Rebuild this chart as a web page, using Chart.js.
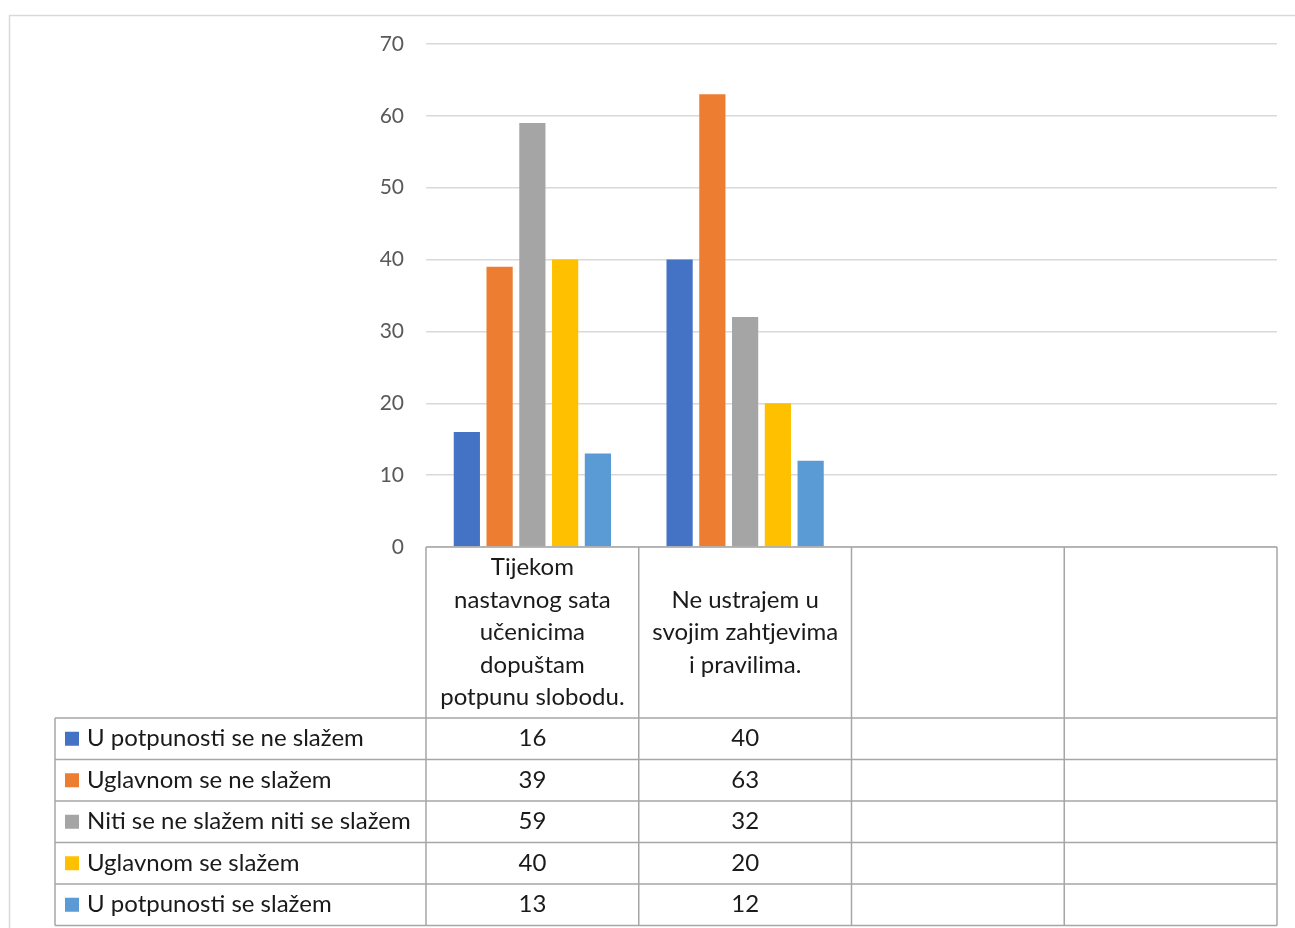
<!DOCTYPE html>
<html>
<head>
<meta charset="utf-8">
<script src="https://cdn.jsdelivr.net/npm/chart.js@4"></script>
<style>
  html, body { margin: 0; padding: 0; background: #fff; }
  #wrap { width: 1295px; height: 928px; }
</style>
</head>
<body>
<div id="wrap"><canvas id="chart" width="1295" height="928"></canvas></div>
<script>
// -------------------------------------------------------------
// Data
// -------------------------------------------------------------
const categories = [
  ['Tijekom', 'nastavnog sata', 'učenicima', 'dopuštam', 'potpunu slobodu.'],
  ['Ne ustrajem u', 'svojim zahtjevima', 'i pravilima.'],
  '',
  ''
]
const seriesNames = [
  'U potpunosti se ne slažem',
  'Uglavnom se ne slažem',
  'Niti se ne slažem niti se slažem',
  'Uglavnom se slažem',
  'U potpunosti se slažem'
]
const seriesValues = [
  [16, 40, null, null],
  [39, 63, null, null],
  [59, 32, null, null],
  [40, 20, null, null],
  [13, 12, null, null]
]
const seriesColors = ['#4472c4', '#ed7d31', '#a5a5a5', '#ffc000', '#5b9bd5']
const yTicks = [0, 10, 20, 30, 40, 50, 60, 70]

const FONT = 'Lato, "Open Sans", sans-serif'
const TABLE_LEFT = 55
const HEADER_BOTTOM = 718
const ROW_H = 41.5

// -------------------------------------------------------------
// Outer frame + data table drawn under/over the chart
// -------------------------------------------------------------
const framePlugin = {
  id: 'frame',
  beforeDraw(chart) {
    const ctx = chart.ctx
    ctx.save()
    ctx.strokeStyle = '#d9d9d9'
    ctx.lineWidth = 1.5
    ctx.strokeRect(9.5, 15.5, 1300, 1000)
    ctx.restore()
  }
}

const dataTablePlugin = {
  id: 'dataTable',
  afterDraw(chart) {
    const { ctx, chartArea } = chart
    const x = chart.scales.x
    const n = categories.length
    const cw = (chartArea.right - chartArea.left) / n
    const top = chartArea.bottom
    const bottom = HEADER_BOTTOM + ROW_H * seriesNames.length

    ctx.save()
    ctx.strokeStyle = '#a6a6a6'
    ctx.lineWidth = 1.5

    // horizontal lines
    ctx.beginPath()
    ctx.moveTo(chartArea.left, top); ctx.lineTo(chartArea.right, top)
    for (let r = 0; r <= seriesNames.length; r++) {
      const y = HEADER_BOTTOM + r * ROW_H
      ctx.moveTo(TABLE_LEFT, y); ctx.lineTo(chartArea.right, y)
    }
    // vertical lines
    ctx.moveTo(TABLE_LEFT, HEADER_BOTTOM); ctx.lineTo(TABLE_LEFT, bottom)
    for (let i = 0; i <= n; i++) {
      const xx = chartArea.left + i * cw
      ctx.moveTo(xx, top); ctx.lineTo(xx, bottom)
    }
    ctx.stroke()

    // header labels (category names)
    ctx.fillStyle = '#1a1a1a'
    ctx.font = `24px ${FONT}`
    ctx.textAlign = 'center'
    ctx.textBaseline = 'middle'
    const lineH = 32.5
    const headerMid = (top + HEADER_BOTTOM) / 2
    categories.forEach((c, i) => {
      const lines = Array.isArray(c) ? c : [c]
      const cx = x.getPixelForValue(i)
      const y0 = headerMid - (lines.length - 1) * lineH / 2
      lines.forEach((ln, k) => ctx.fillText(ln, cx, y0 + k * lineH))
    })

    // rows: legend key + name + values
    seriesNames.forEach((name, r) => {
      const cy = HEADER_BOTTOM + r * ROW_H + ROW_H / 2
      ctx.fillStyle = seriesColors[r]
      ctx.fillRect(65, cy - 7, 14, 14)
      ctx.fillStyle = '#1a1a1a'
      ctx.textAlign = 'left'
      ctx.fillText(name, 87, cy)
      ctx.textAlign = 'center'
      seriesValues[r].forEach((v, i) => {
        if (v == null) return
        ctx.fillText(String(v), x.getPixelForValue(i), cy)
      })
    })
    ctx.restore()
  }
}

new Chart(document.getElementById('chart'), {
  type: 'bar',
  data: {
    labels: categories,
    datasets: seriesNames.map((name, i) => ({
      label: name,
      data: seriesValues[i],
      backgroundColor: seriesColors[i],
      categoryPercentage: 0.77,
      barPercentage: 0.8
    }))
  },
  options: {
    responsive: false,
    animation: false,
    devicePixelRatio: 1,
    layout: { padding: { left: 0, right: 18, top: 44, bottom: 381 } },
    plugins: { legend: { display: false }, tooltip: { enabled: false } },
    scales: {
      x: { display: false },
      y: {
        min: yTicks[0],
        max: yTicks[yTicks.length - 1],
        afterBuildTicks: s => { s.ticks = yTicks.map(v => ({ value: v })) },
        afterFit: s => { s.width = 426 },
        border: { display: false },
        grid: { color: '#d9d9d9', lineWidth: 1.5, drawTicks: false },
        ticks: { color: '#595959', font: { family: FONT, size: 21 }, padding: 22 }
      }
    }
  },
  plugins: [framePlugin, dataTablePlugin]
})
</script>
</body>
</html>
